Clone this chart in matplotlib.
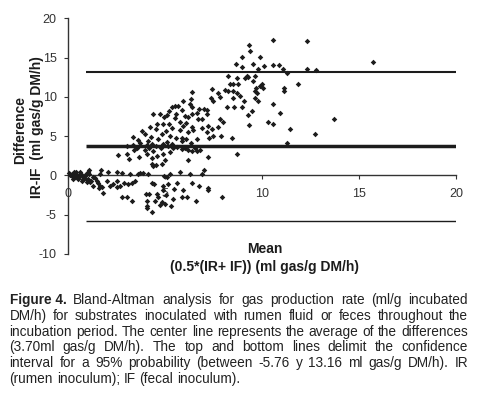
import matplotlib
matplotlib.use('Agg')
import matplotlib.pyplot as plt

plt.rcParams['font.family'] = ['Liberation Sans', 'DejaVu Sans']

# ---------------- data ----------------
mean_vals = [
    # upper region
    15.7, 10.6, 12.3, 9.36, 9.39, 9.0, 9.9, 8.67, 8.96, 9.56, 10.1, 10.6, 10.9, 11.1, 11.3,
    12.35, 12.8, 9.8, 8.28, 9.22, 9.3, 9.13, 9.65, 9.56, 8.74, 8.53, 8.36, 8.79, 9.99, 9.9,
    11.85, 9.7, 10.08, 11.14, 11.14, 8.1, 7.42, 6.39, 7.76, 8.24, 8.53, 8.74, 8.88, 9.65, 9.77,
    7.36, 7.85, 8.53, 9.1, 9.65, 9.82, 6.34, 7.5, 5.92, 6.3, 10.6, 5.53, 5.7, 6.39, 8.22,
    8.58, 9.0, 6.78, 7.04, 7.16, 5.87, 9.48, 5.2, 5.39, 4.76, 4.41, 6.64, 7.2, 10.94, 9.27,
    5.1, 5.6, 6.04, 6.39, 4.96, 5.53, 6.2, 6.7, 6.9, 13.7, 10.3, 10.6, 9.36, 7.85, 8.02,
    5.78, 6.1, 4.62, 4.93, 5.24, 5.92, 5.36, 4.24, 6.42, 7.25, 7.76, 6.9, 7.45, 11.45, 3.81,
    4.55, 5.78, 5.06, 6.2, 6.47, 7.16, 3.99, 4.88, 12.74, 7.5, 7.88, 3.35, 4.27, 5.27, 5.87,
    7.3, 8.45, 4.67, 5.58, 6.1, 6.68, 3.64, 4.14, 5.1, 5.87, 6.34, 3.73, 4.33, 4.93, 5.36,
    11.28, 3.38, 4.07, 4.55, 5.18, 5.61, 6.04, 6.56, 3.04, 3.55, 4.2, 4.79, 5.44, 5.87, 6.2,
    6.82, 3.42, 3.98, 4.41, 5.27, 6.39, 6.64, 8.71, 3.04, 4.1, 4.9, 7.25, 3.18, 3.69, 4.34,
    4.58, 5.01, 6.2, 4.33, 4.55, 4.84, 7.02, 6.9, 4.41, 2.6,
    # cluster near zero
    0.05, 0.2, 0.3, 0.45, 0.5, 0.65, 0.6, 0.7, 0.78, 0.38, 0.52, 0.2, 0.72, 0.9, 1.02,
    1.12, 1.07, 1.2, 1.3, 1.42, 0.98, 1.5, 1.58, 1.67, 1.67, 1.63, 1.75, 1.8, 1.32, 1.15,
    0.1, 0.35, 0.55, 0.85, 0.95, 0.25, 0.4, 0.6, 0.8, 1.0,
    # lower region
    2.0, 2.18, 2.35, 2.52, 2.56, 2.7, 2.9, 3.12, 3.3, 3.47, 2.56, 2.78, 3.2, 3.73, 3.9,
    2.1, 1.7, 1.12, 3.04, 2.78, 3.3, 4.02, 4.19, 4.45, 4.58, 4.67, 4.07, 4.07, 4.07, 4.33,
    4.5, 4.84, 5.01, 4.93, 4.93, 5.06, 5.18, 4.97, 5.13, 5.27, 5.3, 5.4, 5.47, 5.61, 5.78,
    5.96, 5.87, 6.3, 6.13, 6.39, 6.6, 6.78, 7.25, 7.25, 7.93, 4.76, 4.33, 4.15, 3.64,
]
diff_vals = [
    # upper region
    14.4, 17.2, 17.1, 16.65, 15.8, 15.1, 15.1, 14.2, 13.8, 14.15, 13.9, 14.0, 14.0, 13.5, 13.0,
    13.6, 13.4, 13.5, 12.7, 12.7, 12.5, 12.4, 12.7, 12.0, 12.45, 11.7, 11.6, 11.6, 11.7, 11.4,
    11.7, 11.1, 11.1, 11.1, 10.7, 10.85, 11.0, 10.6, 10.55, 10.7, 10.8, 10.55, 10.1, 10.7, 10.55,
    9.9, 10.0, 9.9, 9.5, 9.9, 9.5, 9.7, 9.5, 9.5, 9.1, 9.15, 8.8, 8.9, 8.65, 8.65,
    8.65, 8.65, 8.4, 8.4, 8.35, 8.3, 8.2, 8.2, 8.65, 7.8, 7.8, 7.9, 7.8, 7.9, 7.7,
    7.7, 7.8, 7.6, 7.8, 7.4, 7.3, 7.4, 7.2, 7.2, 7.2, 6.8, 6.5, 6.4, 7.2, 6.8,
    6.8, 6.7, 6.5, 6.6, 6.6, 6.3, 6.1, 6.2, 6.2, 6.3, 6.2, 6.1, 5.9, 5.9, 5.7,
    5.9, 5.8, 5.7, 5.5, 5.8, 5.5, 5.25, 5.25, 5.25, 5.0, 5.0, 4.9, 4.9, 5.0, 4.8,
    4.8, 4.75, 4.6, 4.75, 4.6, 4.6, 4.5, 4.4, 4.2, 4.4, 4.1, 4.1, 4.0, 4.0, 4.0,
    4.1, 3.9, 3.9, 3.8, 3.8, 3.65, 3.55, 3.55, 3.7, 3.55, 3.55, 3.5, 3.45, 3.35, 3.25,
    3.2, 3.2, 3.25, 3.15, 3.0, 3.15, 3.05, 2.7, 2.7, 2.7, 2.7, 2.35, 2.1, 2.3, 2.2,
    2.5, 1.95, 1.95, 1.5, 1.3, 1.45, 0.7, 0.15, 1.2, 2.6,
    # cluster near zero
    0.25, 0.17, 0.38, 0.38, 0.08, 0.5, -0.04, 0.17, -0.25, -0.25, -0.47, -0.13, -0.68, -0.04, 0.38,
    0.17, -0.47, -0.68, -0.17, -0.34, -0.89, -0.68, -1.0, 0.17, -1.33, -1.65, -1.53, -2.29, -1.33, -0.89,
    0.0, 0.1, -0.3, -0.3, 0.2, -0.5, 0.3, -0.1, -0.4, -0.6,
    # lower region
    -0.68, -1.3, -1.1, -1.5, -0.68, -1.3, -1.0, -1.1, -0.9, -0.68, 0.5, 0.25, 0.17, 0.25, 0.25,
    0.5, 0.68, 0.68, -2.8, -2.8, -3.2, -2.3, -2.3, -1.1, -2.3, -2.8, -3.2, -3.85, -4.15, -4.6,
    -3.2, -3.4, -3.6, -1.3, -1.85, -2.45, -1.1, -0.04, -0.25, 0.17, -3.85, -3.0, -1.75, -0.9, 0.38,
    -1.85, -2.8, 0.17, -2.8, -0.9, -3.2, -1.3, -1.6, -1.85, -2.8, -3.7, -0.9, 0.17, 0.17,
]
mean_diff = 3.70
lower_limit = -5.76
upper_limit = 13.16
x_ticks = [0, 5, 10, 15, 20]
y_ticks = [-10, -5, 0, 5, 10, 15, 20]

caption_lines = [
    [("Figure 4.", "bold")] + [(w, "normal") for w in "Bland-Altman analysis for gas production rate (ml/g incubated".split()],
    [(w, "normal") for w in "DM/h) for substrates inoculated with rumen fluid or feces throughout the".split()],
    [(w, "normal") for w in "incubation period. The center line represents the average of the differences".split()],
    [(w, "normal") for w in "(3.70ml gas/g DM/h). The top and bottom lines delimit the confidence".split()],
    [(w, "normal") for w in "interval for a 95% probability (between -5.76 y 13.16 ml gas/g DM/h). IR".split()],
    [(w, "normal") for w in "(rumen inoculum); IF (fecal inoculum).".split()],
]

# ---------------- figure ----------------
W, H = 484, 396
fig = plt.figure(figsize=(W / 100, H / 100), dpi=100)
ax = fig.add_axes([67.7 / W, 1 - 254 / H, 388.3 / W, (254 - 18.3) / H])
ax.set_xlim(0, 20)
ax.set_ylim(-10, 20)

ink = '#1c1c1c'
ax.scatter(mean_vals, diff_vals, marker='D', s=8, color=ink, lw=0, clip_on=False, zorder=3)
ax.hlines(upper_limit, 0.95, 20, color=ink, lw=1.5, zorder=2)
ax.hlines(mean_diff, 0.95, 20, color=ink, lw=2.5, zorder=2)
ax.hlines(lower_limit, 0.95, 20, color=ink, lw=1.0, zorder=2)

for s in ['top', 'right']:
    ax.spines[s].set_visible(False)
ax.spines['bottom'].set_position(('data', 0))
ax.spines['bottom'].set_color('#333333')
ax.spines['left'].set_color('#333333')
ax.spines['bottom'].set_linewidth(1.0)
ax.spines['left'].set_linewidth(1.0)

ax.set_xticks(x_ticks)
ax.set_yticks(y_ticks)
ax.set_xticklabels([str(v) for v in x_ticks])
ax.set_yticklabels([str(v) for v in y_ticks])
ax.tick_params(axis='x', direction='out', length=3, width=0.8, pad=6, labelsize=9,
               colors='#333333')
ax.tick_params(axis='y', direction='out', length=3, width=0.8, pad=5, labelsize=9,
               colors='#333333')

# axis titles
fig.text(20 / W, 1 - 130 / H, "Difference", rotation=90, ha='center', va='center',
         fontsize=10, fontweight='bold', color=ink)
fig.text(37 / W, 1 - 127 / H, "IR-IF  (ml gas/g DM/h)", rotation=90, ha='center', va='center',
         fontsize=10, fontweight='bold', color=ink)
fig.text(265 / W, 1 - 249 / H, "Mean", ha='center', va='center',
         fontsize=10, fontweight='bold', color=ink)
fig.text(265 / W, 1 - 267 / H, "(0.5*(IR+ IF)) (ml gas/g DM/h)", ha='center', va='center',
         fontsize=10, fontweight='bold', color=ink)

# justified caption
renderer = fig.canvas.get_renderer()
left_px, right_px = 9.5, 468.0
cap_color = '#222222'
y0, dy = 300.0, 15.8


def word_width(word, weight, fs):
    t = fig.text(0, 0, word, fontsize=fs, fontweight=weight)
    w = t.get_window_extent(renderer).width
    t.remove()
    return w


# size the caption font so the tightest line fills the text width with normal spacing
ref_fs = 10.0
ref_line = " ".join(w for w, _ in caption_lines[2])
ref_w = word_width(ref_line, "normal", ref_fs)
cap_fs = ref_fs * (right_px - left_px) / ref_w * 0.995

space_w = word_width("a b", "normal", cap_fs) - word_width("ab", "normal", cap_fs)

for i, line in enumerate(caption_lines):
    widths = [word_width(w, wt, cap_fs) for w, wt in line]
    total = sum(widths)
    last = (i == len(caption_lines) - 1)
    if last or len(line) < 2:
        gap = space_w
    else:
        gap = (right_px - left_px - total) / (len(line) - 1)
    x = left_px
    ypx = y0 + i * dy
    for (w, wt), wd in zip(line, widths):
        fig.text(x / W, 1 - ypx / H, w, fontsize=cap_fs, fontweight=wt, color=cap_color,
                 ha='left', va='center')
        x += wd + gap

fig.savefig('out.png', dpi=100)
